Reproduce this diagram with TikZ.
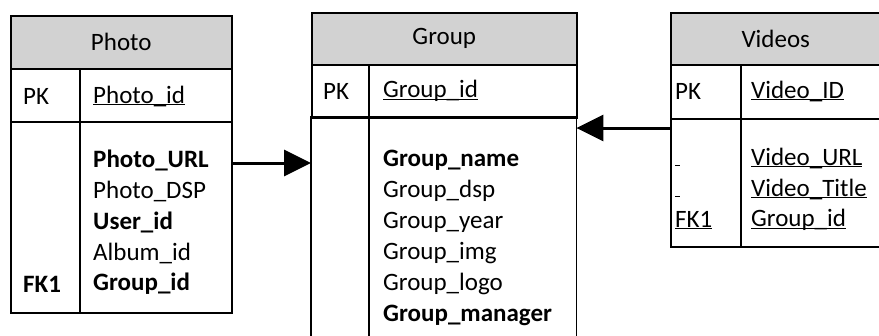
\documentclass[tikz,border=0pt]{standalone}
\usepackage{fontspec}
\setmainfont{Carlito}
\usetikzlibrary{arrows.meta,positioning}
\colorlet{headGray}{gray!35}
\newcommand{\keyline}[1]{\rlap{\underline{\smash{#1}}}\phantom{#1}}

\begin{document}
\begin{tikzpicture}[x=1pt, y=-1pt, every node/.style={font=\fontsize{25}{31}\selectfont},
    tablehead/.style={draw, fill=headGray, line width=1.5pt, anchor=north west, inner sep=0pt},
    tablecell/.style={draw, line width=1.5pt, anchor=north west, inner sep=0pt},
    field/.style={anchor=west, inner sep=0pt},
    fk/.style={line width=3pt, -{Triangle[length=27pt, width=26pt]}}]
    \clip (0,0) rectangle (879,335);

    % Photo
    \node[tablehead, minimum width=221pt, minimum height=53pt] (photo-head) at (10,15) {Photo};
    \node[tablecell, minimum width=221pt, minimum height=53pt] (photo-pk) at (10,68) {};
    \node[tablecell, minimum width=221pt, minimum height=191pt] (photo-body) at (10,121) {};
    \draw[line width=1.5pt] (photo-pk.north west -| 80,0) -- (photo-body.south west -| 80,0);
    \node[field] (photo-pkl) at (23,96) {PK};
    \node[field] (photo-id) at (93,96) {\keyline{Photo\_id}};
    \foreach \txt [count=\i] in {\textbf{Photo\_URL}, Photo\_DSP, \textbf{User\_id}, Album\_id, \textbf{Group\_id}}
        \node[field] (photo-f\i) at (93,129+31*\i) {\txt};
    \node[field] (photo-fk) at (23,284) {\textbf{FK1}};

    % Group
    \node[tablehead, minimum width=265pt, minimum height=52pt] (group-head) at (311,12) {Group};
    \node[tablecell, minimum width=265pt, minimum height=53pt] (group-pk) at (311,64) {};
    \node[anchor=north west, inner sep=0pt, minimum width=265pt, minimum height=230pt] (group-body) at (311,117) {};
    \draw[line width=1.5pt] (group-body.south west) |- (group-body.north east) -- (group-body.south east);
    \draw[line width=1.5pt] (group-pk.north west -| 369,0) -- (group-body.south west -| 369,0);
    \node[field] (group-pkl) at (323,91) {PK};
    \node[field] (group-id) at (383,91) {\keyline{Group\_id}};
    \foreach \txt [count=\i] in {\textbf{Group\_name}, Group\_dsp, Group\_year, Group\_img, Group\_logo, \textbf{Group\_manager}}
        \node[field] (group-f\i) at (383,129+31*\i) {\txt};

    % Videos
    \node[tablehead, minimum width=210pt, minimum height=52pt] (videos-head) at (670,12) {Videos};
    \node[tablecell, minimum width=210pt, minimum height=54pt] (videos-pk) at (670,64) {};
    \node[tablecell, minimum width=210pt, minimum height=128pt] (videos-body) at (670,118) {};
    \draw[line width=1.5pt] (videos-pk.north west -| 741,0) -- (videos-body.south west -| 741,0);
    \node[field] (videos-pkl) at (675,91) {PK};
    \node[field] (videos-id) at (751,91) {\keyline{Video\_ID}};
    \foreach \txt [count=\i] in {Video\_URL, Video\_Title, Group\_id}
        \node[field] (videos-f\i) at (751,127+31*\i) {\keyline{\txt}};
    \node[field] (videos-k1) at (675,158) {\keyline{\hbox to 5pt{}}\vphantom{Ag}};
    \node[field] (videos-k2) at (675,189) {\keyline{\hbox to 5pt{}}\vphantom{Ag}};
    \node[field] (videos-fk) at (675,220) {\keyline{FK1}};

    % links
    \coordinate (photo-link) at ([yshift=-3pt]photo-f1.west -| photo-body.east);
    \draw[fk] (photo-link) -- (photo-link -| group-body.west);
    \coordinate (videos-link) at ([yshift=-10pt]videos-body.north west);
    \draw[fk] (videos-link) -- (videos-link -| group-body.east);
\end{tikzpicture}
\end{document}
